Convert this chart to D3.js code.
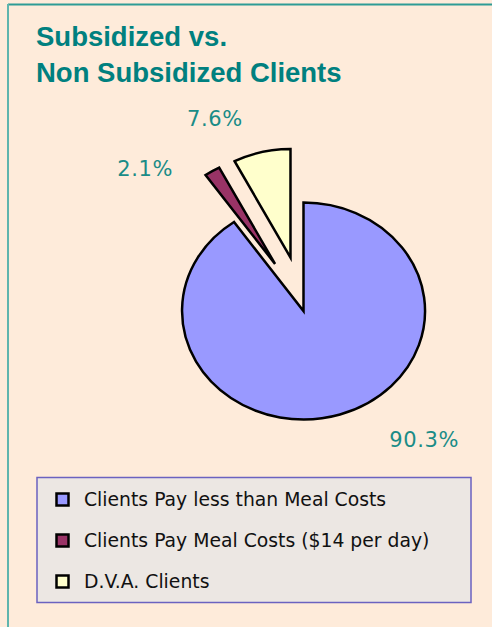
<!DOCTYPE html>
<html>
<head>
<meta charset="utf-8">
<script src="https://cdn.jsdelivr.net/npm/d3@7"></script>
<style>
  html, body { margin: 0; padding: 0; background: #FEEBDA; }
  svg { display: block; }
</style>
</head>
<body>
<svg id="chart" width="492" height="627"></svg>
<script>
// ---- data ----
const categories = ["Clients Pay less than Meal Costs", "Clients Pay Meal Costs ($14 per day)", "D.V.A. Clients"];
const values = [90.3, 2.1, 7.6];
const valueLabels = ["90.3%", "2.1%", "7.6%"];
const titleLines = ["Subsidized vs.", "Non Subsidized Clients"];

// ---- style / layout ----
const colors = ["#9999FF", "#993366", "#FFFFCC"];
const explode = [0, 55, 55];                  // px, along slice mid-angle
const labelAngleShift = [-25.8, -22.6, -14.9]; // deg, relative to mid-angle
const labelDist = [176, 161, 158];            // px from slice apex
const W = 492, H = 627;
const cx = 303.5, cy = 311, rx = 121.5, ry = 108.5;

const svg = d3.select("#chart");

svg.append("rect").attr("width", W).attr("height", H).attr("fill", "#FEEBDA");
// frame lines (top and left)
svg.append("line").attr("x1", 8).attr("x2", W).attr("y1", 4.5).attr("y2", 4.5)
  .attr("stroke", "#2E9C95").attr("stroke-width", 2);
svg.append("line").attr("x1", 8).attr("x2", 8).attr("y1", 4).attr("y2", H)
  .attr("stroke", "#5FB5AE").attr("stroke-width", 2);

// title
const title = svg.append("text")
  .attr("font-family", "'Liberation Sans', Arial, sans-serif")
  .attr("font-weight", "bold").attr("font-size", 27.5).attr("fill", "#00807F");
titleLines.forEach((t, i) => {
  title.append("tspan").attr("x", 36).attr("y", 46 + i * 35.7).text(t);
});

// pie
const pie = d3.pie().sort(null).value(d => d);
const arcs = pie(values);
const arc = d3.arc().innerRadius(0).outerRadius(1);
const rad = Math.PI / 180;

const g = svg.append("g");
arcs.forEach((a, i) => {
  const mid = (a.startAngle + a.endAngle) / 2;
  const dx = Math.sin(mid) * explode[i];
  const dy = -Math.cos(mid) * explode[i];
  const ox = cx + dx, oy = cy + dy;
  g.append("path")
    .attr("d", arc(a))
    .attr("transform", `translate(${ox},${oy}) scale(${rx},${ry})`)
    .attr("fill", colors[i])
    .attr("stroke", "#000")
    .attr("stroke-width", 2.5)
    .attr("stroke-linejoin", "miter")
    .attr("vector-effect", "non-scaling-stroke");

  const la = mid + labelAngleShift[i] * rad;
  svg.append("text")
    .attr("x", ox + Math.sin(la) * labelDist[i])
    .attr("y", oy - Math.cos(la) * labelDist[i])
    .attr("dy", "0.35em")
    .attr("text-anchor", "middle")
    .attr("font-family", "'DejaVu Sans', Verdana, sans-serif")
    .attr("font-size", 21)
    .attr("letter-spacing", 0.6)
    .attr("fill", "#1A8C87")
    .text(valueLabels[i]);
});

// legend
const lg = svg.append("g");
lg.append("rect").attr("x", 37).attr("y", 477.5).attr("width", 434).attr("height", 125)
  .attr("fill", "#ECE7E3").attr("stroke", "#6B62C0").attr("stroke-width", 1.5);
const rowY = d3.scalePoint().domain(d3.range(categories.length)).range([499.5, 581.5]);
categories.forEach((c, i) => {
  const y = rowY(i);
  lg.append("rect").attr("x", 56.5).attr("y", y - 6).attr("width", 12).attr("height", 12)
    .attr("fill", colors[i]).attr("stroke", "#000").attr("stroke-width", 2.5);
  lg.append("text").attr("x", 84).attr("y", y).attr("dy", "0.35em")
    .attr("font-family", "'DejaVu Sans', Verdana, sans-serif")
    .attr("font-size", 18.8).attr("fill", "#111").text(c);
});
</script>
</body>
</html>
